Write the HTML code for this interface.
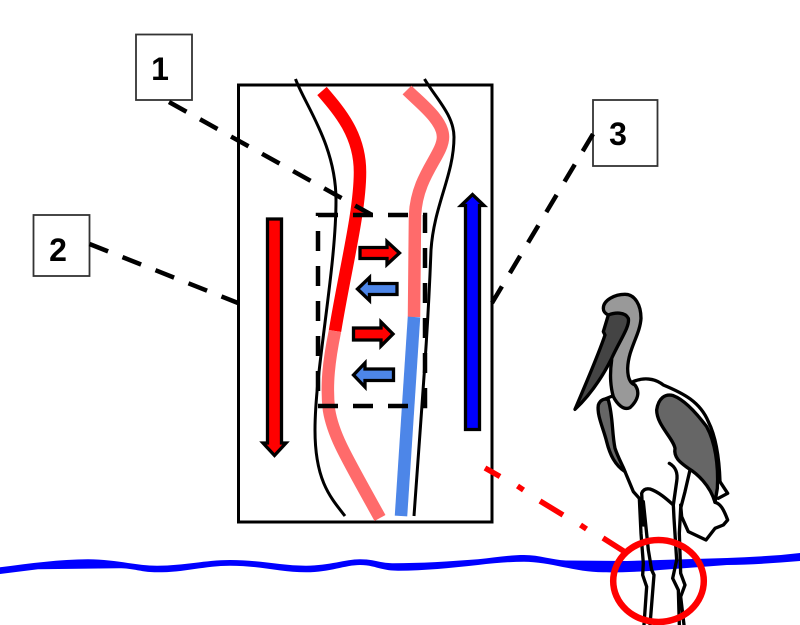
<!DOCTYPE html>
<html><head><meta charset="utf-8"><style>html,body{margin:0;padding:0;background:#fff}svg{display:block}</style></head>
<body>
<svg width="800" height="625" viewBox="0 0 800 625" xmlns="http://www.w3.org/2000/svg" font-family="'Liberation Sans',sans-serif">
<rect width="800" height="625" fill="#fff"/>
<!-- water -->
<path fill="#0000ff" d="M0,567.300 C30,563.500 60,559.300 88,559.300 C115,559.300 135,565.700 157,565.700 C185,565.700 205,560 230,560 C260,560 280,565.700 306,565.700 C330,565.700 345,559.300 360,559.300 C375,559.300 380,563.300 394,563.300 C420,563.300 450,561.500 478,559.300 C495,557.500 510,555 524,555 C540,555 552,560 566,560.500 L627,561 L727,558 C750,557 775,556 800,553 L800,561 C775,563 750,565 727,565 L660,570 C640,572 620,572.500 603,572.300 C575,572 550,561.700 524,561.700 C510,561.700 495,563 478,565 C450,568 425,570.700 398,570.700 C380,570.700 375,565 360,565 C345,565 330,572.300 306,572.300 C280,572.300 260,565.700 230,565.700 C205,565.700 185,572.300 157,572.300 C140,572.300 135,568.300 119,568.300 L38,569.300 L0,574 Z"/>
<!-- main rectangle -->
<rect x="238.500" y="85" width="253.500" height="437" fill="#fff" stroke="#000" stroke-width="3"/>
<!-- thin vessels -->
<path fill="none" stroke="#000" stroke-width="3" d="M295.500,79 C305,105 336,145 336,200 C336,270 315,370 315,430 C315,480 330,497 345,516"/>
<path fill="none" stroke="#000" stroke-width="3" d="M424.500,79 C435,97 454,115 454,137 C454,175 434,205 431,250 C428,330 423,390 414,516"/>
<!-- thick vessels -->
<path fill="none" stroke="#ff0000" stroke-width="12.500" d="M322,91 C340,112 360,135 360,172 C360,212 345,270 335,331"/>
<path fill="none" stroke="#ff6b6b" stroke-width="12.500" d="M335,331 C329,360 326,385 329,410 C333,435 345,455 380,518"/>
<path fill="none" stroke="#ff6b6b" stroke-width="12.500" d="M407,90 C420,103 443,120 443,137 C443,155 417,175 415,215 L414,317"/>
<path fill="none" stroke="#4d86e8" stroke-width="12.500" d="M414,317 L401,516"/>
<!-- dashed box -->
<rect x="318" y="215" width="107" height="191" fill="none" stroke="#000" stroke-width="4.500" stroke-dasharray="20 15"/>
<!-- big arrows -->
<path fill="#ff0000" stroke="#000" stroke-width="3.300" stroke-linejoin="miter" d="M267.500,219 L281.500,219 L281.500,443 L286,443 L274.500,455.500 L263,443 L267.500,443 Z"/>
<path fill="#0000ff" stroke="#000" stroke-width="3.300" stroke-linejoin="miter" d="M465.500,429.500 L479.500,429.500 L479.500,205.500 L484,205.500 L472.500,194.500 L461,205.500 L465.500,205.500 Z"/>
<!-- small arrows -->
<g stroke="#000" stroke-width="3.300" stroke-linejoin="miter">
<path fill="#ff0000" d="M360,247.500 L387,247.500 L387,241.500 L399.500,253 L387,264.500 L387,258.500 L360,258.500 Z"/>
<path fill="#4d86e8" d="M397,283.500 L369.500,283.500 L369.500,277.500 L357.500,289 L369.500,300.500 L369.500,294.500 L397,294.500 Z"/>
<path fill="#ff0000" d="M353.500,328 L381,328 L381,322 L393,334 L381,346 L381,340 L353.500,340 Z"/>
<path fill="#4d86e8" d="M393.500,369 L365,369 L365,363 L353.500,375 L365,387 L365,380.500 L393.500,380.500 Z"/>
</g>
<!-- callouts -->
<g fill="#fff" stroke="#333" stroke-width="1.800">
<rect x="136" y="34.500" width="56" height="65.500"/>
<rect x="33.500" y="215" width="56" height="61"/>
<rect x="593" y="100" width="64.500" height="66"/>
</g>
<g fill="#000" font-size="32" font-weight="bold" text-anchor="middle">
<text x="160" y="80">1</text>
<text x="58" y="261">2</text>
<text x="618" y="145">3</text>
</g>
<g fill="none" stroke="#000" stroke-width="4.500" stroke-dasharray="20 15.500">
<path d="M169,102 L372,215"/>
<path d="M89.500,244 L238,303"/>
<path d="M593,134 L492,303"/>
</g>
<!-- stork -->
<g transform="translate(560,285) scale(0.33333)" stroke="#000" stroke-width="10" stroke-linejoin="round" stroke-linecap="round">
<path fill="#fff" stroke="none" d="M215,292 C250,275 285,280 310,300 C370,325 420,350 445,410 C470,460 478,530 480,590 L465,652 L385,600 L340,660 L270,612 L245,625 L238,640 L195,560 C175,520 160,480 150,430 C145,390 140,360 140,340 L165,330 Z"/>
<path fill="none" d="M215,292 C250,275 285,280 310,300 C370,325 420,350 445,410 C470,460 478,530 480,590"/>
<path fill="none" d="M135,342 L165,330"/>
<path fill="#666666" d="M115,360 C120,345 135,338 145,345 C160,400 155,440 165,490 C175,520 190,545 195,560 C165,540 150,510 140,470 C130,430 110,390 115,360 Z"/>
<path fill="#999999" d="M130,70 C130,45 165,28 195,28 C225,28 243,60 243,100 C240,150 205,190 203,250 C203,280 210,295 225,300 C240,320 235,345 210,368 C190,378 170,355 160,335 C150,300 150,260 155,225 L145,90 C135,85 130,80 130,70 Z"/>
<path fill="#444444" d="M45,373 C80,290 115,210 135,150 L130,140 L145,90 C165,82 195,80 205,100 C210,125 180,165 155,220 C120,290 80,340 45,373 Z"/>
<path fill="#666666" d="M290,375 C295,340 315,325 340,332 C375,345 410,385 440,425 C465,470 476,540 472,610 L465,652 C450,600 410,565 385,550 C365,535 340,520 345,490 C340,460 290,420 290,375 Z"/>
<g fill="none">
<path d="M195,560 L220,620 L238,640 L243,745 L250,835 L248,870 L260,905 L252,1020"/>
<path d="M250,720 L245,625 C250,612 260,610 270,612 C295,620 320,642 340,660 L342,700 L350,825 L338,880 L355,915 L358,1020"/>
<path d="M250,650 L265,795 L275,855 L282,870 L270,1020"/>
<path d="M328,535 C345,545 355,560 350,590 L340,660"/>
<path d="M390,555 L375,620 L362,670 L358,745 L362,865 L375,900 L362,935 L372,1020"/>
<path d="M480,590 L503,625 L475,640"/>
<path d="M465,652 C480,655 490,670 503,705 L490,720 L465,730 L438,765 L385,740 L365,695 L362,660"/>
</g>
</g>
<!-- red dash-dot -->
<g fill="none" stroke="#ff0000" stroke-width="5.500">
<path d="M485,468 L500,476.500 M517.500,486 L523.500,490 M540,501 L563,515 M580.500,525 L586.500,529 M603,538 L625,552"/>
</g>
<ellipse cx="658.500" cy="581" rx="45.300" ry="41" fill="none" stroke="#ff0000" stroke-width="6.500"/>
</svg>
</body></html>
